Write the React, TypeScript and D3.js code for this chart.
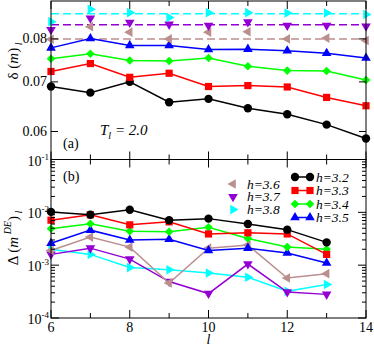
import React from 'react';
import * as d3 from 'd3';

// system sizes l
const sizesTop = [6, 7, 8, 9, 10, 11, 12, 13, 14];
const sizesBot = [6, 7, 8, 9, 10, 11, 12, 13];

// panel (a): delta(m)_l
const topH32 = [0.069, 0.0677, 0.07, 0.0657, 0.0664, 0.0645, 0.0633, 0.0613, 0.0587];
const topH33 = [0.0723, 0.0741, 0.071, 0.0719, 0.069, 0.0692, 0.0689, 0.0667, 0.065];
const topH34 = [0.0752, 0.0764, 0.0748, 0.0747, 0.0754, 0.0735, 0.0725, 0.0724, 0.0704];
const topH35 = [0.0778, 0.0801, 0.0784, 0.0784, 0.0774, 0.0775, 0.0771, 0.0765, 0.0754];
const topH36 = [0.0799, 0.0831, 0.0817, 0.08, 0.0817, 0.0818, 0.08, 0.0802, 0.0796];
const topH37 = [0.0823, 0.0853, 0.0842, 0.0837, 0.0834, 0.0843, 0.0834, 0.0834, 0.0832];
const topH38 = [0.0844, 0.0877, 0.0868, 0.0855, 0.0868, 0.0868, 0.0867, 0.0867, 0.0863];
// dashed reference levels for h=3.6, 3.7, 3.8
const refLevels = [0.08, 0.0836, 0.0865];

// panel (b): Delta(m^DE)_l
const botH32 = [0.0102, 0.009, 0.0112, 0.0071, 0.0076, 0.006, 0.0047, 0.0027];
const botH33 = [0.0071, 0.009, 0.0058, 0.0066, 0.0039, 0.0041, 0.0039, 0.0016];
const botH34 = [0.0049, 0.0061, 0.0044, 0.0043, 0.0052, 0.0032, 0.0022, 0.002];
const botH35 = [0.0026, 0.0046, 0.003, 0.0031, 0.0019, 0.0021, 0.0017, 0.0011];
const botH36 = [0.0019, 0.0034, 0.0022, 0.00046, 0.0021, 0.0024, 0.00057, 0.00069];
const botH37 = [0.0016, 0.0021, 0.0013, 0.00049, 0.00029, 0.00105, 0.00031, 0.00028];
const botH38 = [0.002, 0.0016, 0.0009, 0.00082, 0.00071, 0.00059, 0.00032, 0.00043];

const labels = ['h=3.2', 'h=3.3', 'h=3.4', 'h=3.5', 'h=3.6', 'h=3.7', 'h=3.8'];
const colors = ['#000000', '#ff0000', '#00ff00', '#0000ff', '#bc8f8f', '#9400d3', '#00ffff'];
const shapes = ['circle', 'square', 'diamond', 'up', 'left', 'down', 'right'];

const topSeries = [topH32, topH33, topH34, topH35, topH36, topH37, topH38];
const botSeries = [botH32, botH33, botH34, botH35, botH36, botH37, botH38];

const topTicks = [0.06, 0.07, 0.08];
const botMajor = [1e-4, 1e-3, 1e-2, 1e-1];
const botExp = ['-4', '-3', '-2', '-1'];
const xTicks = [6, 7, 8, 9, 10, 11, 12, 13, 14];

const FONT = "'Times New Roman', 'Liberation Serif', Tinos, serif";

const L = 51, R = 366, T = 1, M = 159.5, B = 318;

const x = d3.scaleLinear().domain([6, 14]).range([L, R]);
const yTop = d3.scaleLog().domain([0.055, 0.09]).range([M, T]);
const yBot = d3.scaleLog().domain([1e-4, 1e-1]).range([B, M]);

const tri = d3.symbol().type(d3.symbolTriangle).size(40)();

function Marker({ shape, cx, cy, color }: { shape: string; cx: number; cy: number; color: string }) {
	if (shape === 'circle') return <circle cx={cx} cy={cy} r={4.2} fill={color} />;
	if (shape === 'square') return <rect x={cx - 3.6} y={cy - 3.6} width={7.2} height={7.2} fill={color} />;
	if (shape === 'diamond')
		return <path d={`M${cx},${cy - 4.3}L${cx + 4.3},${cy}L${cx},${cy + 4.3}L${cx - 4.3},${cy}Z`} fill={color} />;
	const rot = { up: 0, right: 90, down: 180, left: 270 }[shape] || 0;
	return <path d={tri || ''} transform={`translate(${cx},${cy}) rotate(${rot})`} fill={color} />;
}

export default function App() {
	const line = d3.line<[number, number]>();

	const minor: number[] = [];
	[1e-4, 1e-3, 1e-2].forEach((e) => {
		for (let k = 2; k <= 9; k++) minor.push(k * e);
	});

	return (
		<svg
			width={374}
			height={347}
			style={{ position: 'absolute', left: 0, top: 0, background: '#fff' }}
		>
			<g fontFamily={FONT}>
				{/* dashed reference levels */}
				{refLevels.map((v, i) => (
					<line
						key={'ref' + i}
						x1={L}
						x2={R}
						y1={yTop(v)}
						y2={yTop(v)}
						stroke={colors[4 + i]}
						strokeWidth={1.5}
						strokeDasharray="8,4"
					/>
				))}

				{/* panel (a) lines for h=3.2..3.5 */}
				{topSeries.slice(0, 4).map((s, i) => (
					<path
						key={'tl' + i}
						d={line(s.map((v, j) => [x(sizesTop[j]), yTop(v)])) || ''}
						fill="none"
						stroke={colors[i]}
						strokeWidth={1.5}
					/>
				))}
				{topSeries.map((s, i) =>
					s.map((v, j) => (
						<Marker key={`tm${i}-${j}`} shape={shapes[i]} cx={x(sizesTop[j])} cy={yTop(v)} color={colors[i]} />
					))
				)}

				{/* panel (b) */}
				{botSeries
					.map((s, i) => ({ s, i }))
					.reverse()
					.map(({ s, i }) => (
						<g key={'b' + i}>
							<path
								d={line(s.map((v, j) => [x(sizesBot[j]), yBot(v)])) || ''}
								fill="none"
								stroke={colors[i]}
								strokeWidth={1.5}
							/>
							{s.map((v, j) => (
								<Marker key={j} shape={shapes[i]} cx={x(sizesBot[j])} cy={yBot(v)} color={colors[i]} />
							))}
						</g>
					))}

				{/* frames */}
				<g stroke="#000" strokeWidth={1} fill="none">
					<rect x={L} y={T} width={R - L} height={M - T} />
					<rect x={L} y={M} width={R - L} height={B - M} />
				</g>

				{/* ticks */}
				<g stroke="#000" strokeWidth={1}>
					{xTicks.map((t) => {
						const len = t % 2 === 0 ? 8 : 5;
						const px = x(t);
						return (
							<g key={'xt' + t}>
								<line x1={px} x2={px} y1={T} y2={T + len} />
								<line x1={px} x2={px} y1={M} y2={M - len} />
								<line x1={px} x2={px} y1={M} y2={M + len} />
								<line x1={px} x2={px} y1={B} y2={B - len} />
							</g>
						);
					})}
					{topTicks.map((t) => (
						<g key={'yt' + t}>
							<line x1={L} x2={L + 7} y1={yTop(t)} y2={yTop(t)} />
							<line x1={R} x2={R - 7} y1={yTop(t)} y2={yTop(t)} />
						</g>
					))}
					{botMajor.map((t) => (
						<g key={'yb' + t}>
							<line x1={L} x2={L + 8} y1={yBot(t)} y2={yBot(t)} />
							<line x1={R} x2={R - 8} y1={yBot(t)} y2={yBot(t)} />
						</g>
					))}
					{minor.map((t) => (
						<g key={'ym' + t}>
							<line x1={L} x2={L + 4} y1={yBot(t)} y2={yBot(t)} />
							<line x1={R} x2={R - 4} y1={yBot(t)} y2={yBot(t)} />
						</g>
					))}
				</g>

				{/* tick labels */}
				<g fontSize={14} fill="#000">
					{topTicks.map((t) => (
						<text key={'ytl' + t} x={47} y={yTop(t) + 4.5} textAnchor="end">
							{d3.format('.2f')(t)}
						</text>
					))}
					{botMajor.map((t, i) => (
						<text key={'ybl' + t} x={49} y={yBot(t) + 6} textAnchor="end">
							10
							<tspan fontSize={9} dy={-6}>
								{botExp[i]}
							</tspan>
						</text>
					))}
					{xTicks
						.filter((t) => t % 2 === 0)
						.map((t) => (
							<text key={'xtl' + t} x={x(t)} y={332} textAnchor="middle">
								{t}
							</text>
						))}
				</g>

				{/* axis titles */}
				<text fontSize={15} transform="translate(18,61) rotate(-90)" textAnchor="middle">
					δ (<tspan fontStyle="italic">m</tspan>)
					<tspan fontSize={10} fontStyle="italic" dy={4}>
						{' l'}
					</tspan>
				</text>
				<text fontSize={15} transform="translate(18,238) rotate(-90)" textAnchor="middle">
					Δ (<tspan fontStyle="italic">m</tspan>
					<tspan fontSize={10} fontStyle="italic" dy={-7}>
						{' DE'}
					</tspan>
					<tspan dy={7}>)</tspan>
					<tspan fontSize={10} fontStyle="italic" dy={4}>
						{' l'}
					</tspan>
				</text>
				<text fontSize={14} fontStyle="italic" x={x(10)} y={344} textAnchor="middle">
					l
				</text>

				{/* annotations */}
				<text fontSize={15} fontStyle="italic" x={100} y={135}>
					T
					<tspan fontSize={10} dy={4}>
						l
					</tspan>
					<tspan dy={-4}> = 2.0</tspan>
				</text>
				<text fontSize={14} x={63} y={148}>
					(a)
				</text>
				<text fontSize={14} x={63} y={181}>
					(b)
				</text>

				{/* legend */}
				<g fontSize={13.5} fontStyle="italic">
					{[4, 5, 6].map((i, k) => {
						const ly = 184 + k * 12.8;
						return (
							<g key={'lg' + i}>
								<Marker shape={shapes[i]} cx={233} cy={ly} color={colors[i]} />
								<text x={247} y={ly + 4.5}>
									{labels[i]}
								</text>
							</g>
						);
					})}
					{[0, 1, 2, 3].map((i) => {
						const ly = 177 + i * 13.5;
						return (
							<g key={'lr' + i}>
								<line x1={295} x2={310} y1={ly} y2={ly} stroke={colors[i]} strokeWidth={1.5} />
								<Marker shape={shapes[i]} cx={295} cy={ly} color={colors[i]} />
								<Marker shape={shapes[i]} cx={310} cy={ly} color={colors[i]} />
								<text x={316} y={ly + 4.5}>
									{labels[i]}
								</text>
							</g>
						);
					})}
				</g>
			</g>
		</svg>
	);
}
